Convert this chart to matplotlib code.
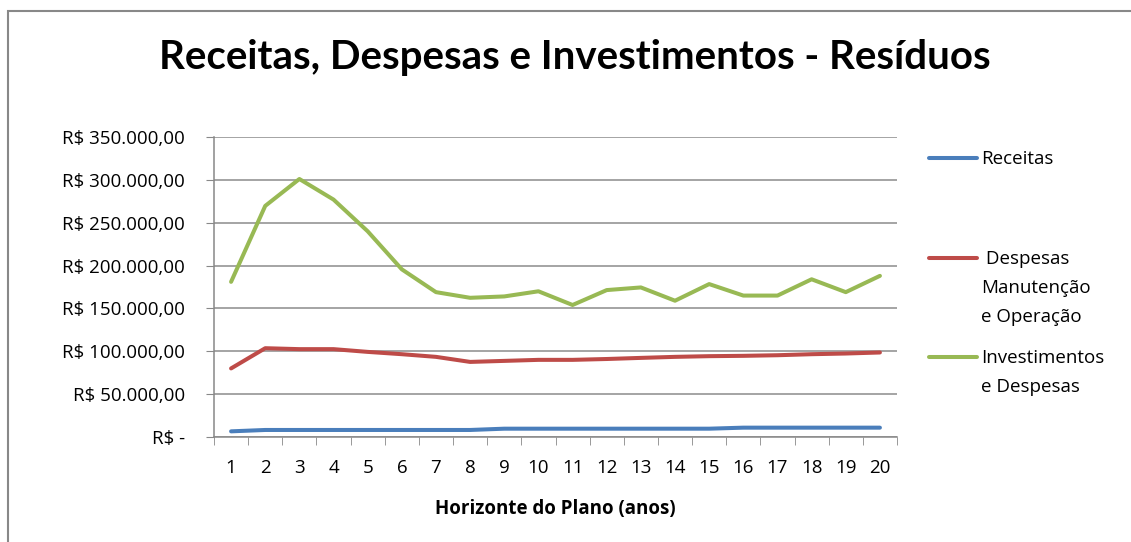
import numpy as np
import matplotlib
matplotlib.use('Agg')
import matplotlib.pyplot as plt
from matplotlib.lines import Line2D
from matplotlib.patches import Rectangle

# data
anos = list(range(1, 21))
receitas = [6.6, 8.2, 8.2, 8.2, 8.2, 8.2, 8.2, 8.2, 9.7, 9.7,
            9.7, 9.7, 9.7, 9.7, 9.7, 10.9, 10.9, 10.9, 10.9, 10.9]
despesas = [80.0, 103.6, 102.5, 102.5, 99.3, 96.6, 93.5, 87.6, 88.8, 90.0,
            90.0, 91.0, 92.3, 93.5, 94.3, 94.7, 95.4, 96.6, 97.4, 98.6]
investimentos = [181.0, 269.6, 301.0, 277.0, 240.0, 195.6, 169.0, 162.4, 164.0, 170.0,
                 154.0, 171.4, 174.5, 159.0, 178.4, 165.0, 165.0, 184.0, 169.0, 188.0]

series = [receitas, despesas, investimentos]
labels = ['Receitas', ' Despesas\nManutenção\ne Operação', 'Investimentos\ne Despesas']
colors = ['#4A7EBB', '#BE4B48', '#98B954']

yticks = [0, 50, 100, 150, 200, 250, 300, 350]
ytick_labels = ['R$ -', 'R$ 50.000,00', 'R$ 100.000,00', 'R$ 150.000,00',
                'R$ 200.000,00', 'R$ 250.000,00', 'R$ 300.000,00', 'R$ 350.000,00']

plt.rcParams['font.family'] = ['Open Sans', 'DejaVu Sans']
fs = 13.5

W, H = 1131, 542
fig = plt.figure(figsize=(W / 100, H / 100), dpi=100)
ax = fig.add_axes([214 / W, 1 - 437 / H, (897 - 214) / W, (437 - 137) / H])

# chart border (cropped on the right and bottom)
fig.add_artist(Rectangle((8 / W, -0.1), 1.2, 1 - 11 / H + 0.1, transform=fig.transFigure,
                         fill=False, edgecolor='#888888', linewidth=1.5))

for vals, c in zip(series, colors):
    ax.plot(anos, np.array(vals) * 1000, color=c, linewidth=2.9,
            solid_capstyle='round', solid_joinstyle='round', zorder=3)

ax.set_xlim(0.5, 20.5)
ax.set_ylim(0, 350000)
ax.set_xticks(anos)
ax.set_xticklabels([str(a) for a in anos], fontsize=fs)
ax.set_xticks(np.arange(0.5, 21, 1), minor=True)
ax.tick_params(axis='x', which='major', length=0, pad=16)
ax.tick_params(axis='x', which='minor', length=6, direction='out', color='#888888')
ax.set_yticks([v * 1000 for v in yticks])
ax.set_yticklabels(ytick_labels, fontsize=fs)
ax.tick_params(axis='y', length=6, direction='out', color='#888888', pad=15)

ax.grid(axis='y', color='#8c8c8c', linewidth=1.1)
ax.set_axisbelow(True)
for s in ['top', 'right']:
    ax.spines[s].set_visible(False)
for s in ['left', 'bottom']:
    ax.spines[s].set_color('#888888')
    ax.spines[s].set_linewidth(1.1)

ax.set_xlabel('Horizonte do Plano (anos)', fontsize=13.5, fontweight='bold', labelpad=16)

fig.text(575 / W, 1 - 58 / H, 'Receitas, Despesas e Investimentos - Resíduos',
         ha='center', va='center', fontsize=29, fontweight='bold', family=['Lato'])

# legend drawn by hand to follow the original spacing
leg_y = [158, 258, 357]
for lab, c, y in zip(labels, colors, leg_y):
    fig.add_artist(Line2D([929 / W, 977 / W], [1 - y / H, 1 - y / H], color=c,
                          linewidth=2.9, solid_capstyle='round', transform=fig.transFigure))
    fig.text(981 / W, 1 - (y - 8) / H, lab, ha='left', va='top', fontsize=fs,
             linespacing=1.78)

fig.savefig('out.png', dpi=100)
